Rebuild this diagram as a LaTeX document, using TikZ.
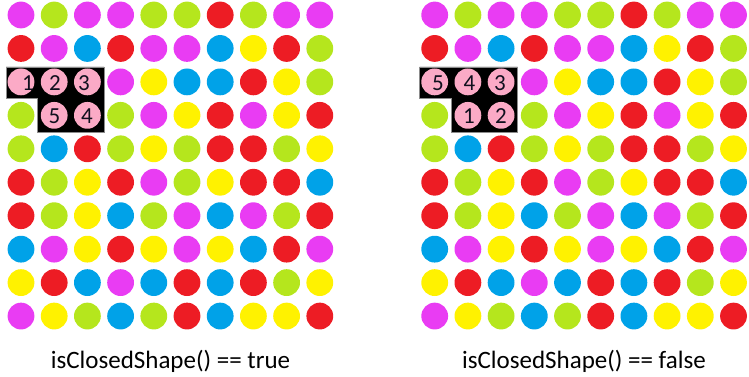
\documentclass[tikz,border=0pt]{standalone}
\usepackage{fontspec}
\setmainfont{Carlito}
\definecolor{colM}{HTML}{E93CF3}
\definecolor{colG}{HTML}{B5E61D}
\definecolor{colR}{HTML}{ED1C24}
\definecolor{colB}{HTML}{00A2E8}
\definecolor{colY}{HTML}{FFF200}
\definecolor{colP}{HTML}{FBAAC6}
\definecolor{digit}{HTML}{10101E}
\tikzset{
  dot/.style={radius=13.4},
  blackshape/.style={fill=black, draw=black!45, line width=0.8pt},
  numlabel/.style={inner sep=0pt, text=digit, font=\fontsize{23}{23}\selectfont},
  caption/.style={anchor=base, inner sep=0pt, font=\fontsize{25}{27}\selectfont}
}
\newcommand{\dotgrid}[1]{%
  \foreach \rowlist [count=\j from 0] in {
    {M,G,M,M,G,G,R,G,M,M},
    {R,M,B,R,M,M,B,Y,R,G},
    {P,P,P,M,Y,B,B,R,Y,G},
    {G,P,P,G,M,Y,R,M,Y,R},
    {G,B,R,G,Y,G,R,R,G,Y},
    {R,G,Y,R,M,G,Y,R,R,B},
    {R,G,Y,B,G,M,B,M,G,R},
    {B,M,Y,R,Y,M,Y,B,R,M},
    {Y,R,B,M,B,R,B,R,G,Y},
    {M,Y,G,B,G,R,B,Y,Y,R}} {
    \foreach \c [count=\i from 0] in \rowlist {
      \fill[col\c] ({#1+21+33.2*\i},{15+33.45*\j}) circle[dot];
    }
  }%
}
\begin{document}
\begin{tikzpicture}[x=1pt,y=-1pt]
\useasboundingbox (0,0) rectangle (749,377);
% left grid
\draw[blackshape] (6,67) -- (104,67) -- (104,132) -- (37.5,132) -- (37.5,98.5) -- (6,98.5) -- cycle;
\dotgrid{0}
\node[numlabel] (L1) at (28,83.5) {1};
\node[numlabel] (L2) at (55,83.5) {2};
\node[numlabel] (L3) at (84,83.5) {3};
\node[numlabel] (L5) at (54.5,116.5) {5};
\node[numlabel] (L4) at (87,116.5) {4};
\node[caption] (capL) at (170.5,368) {isClosedShape() == true};
% right grid
\draw[blackshape] (419.7,67) -- (517.7,67) -- (517.7,132) -- (451.2,132) -- (451.2,98.5) -- (419.7,98.5) -- cycle;
\dotgrid{413.7}
\node[numlabel] (R5) at (438,83.5) {5};
\node[numlabel] (R4) at (469.5,83.5) {4};
\node[numlabel] (R3) at (500,83.5) {3};
\node[numlabel] (R1) at (469,116.5) {1};
\node[numlabel] (R2) at (501,116.5) {2};
\node[caption] (capR) at (584,368) {isClosedShape() == false};
\end{tikzpicture}
\end{document}
